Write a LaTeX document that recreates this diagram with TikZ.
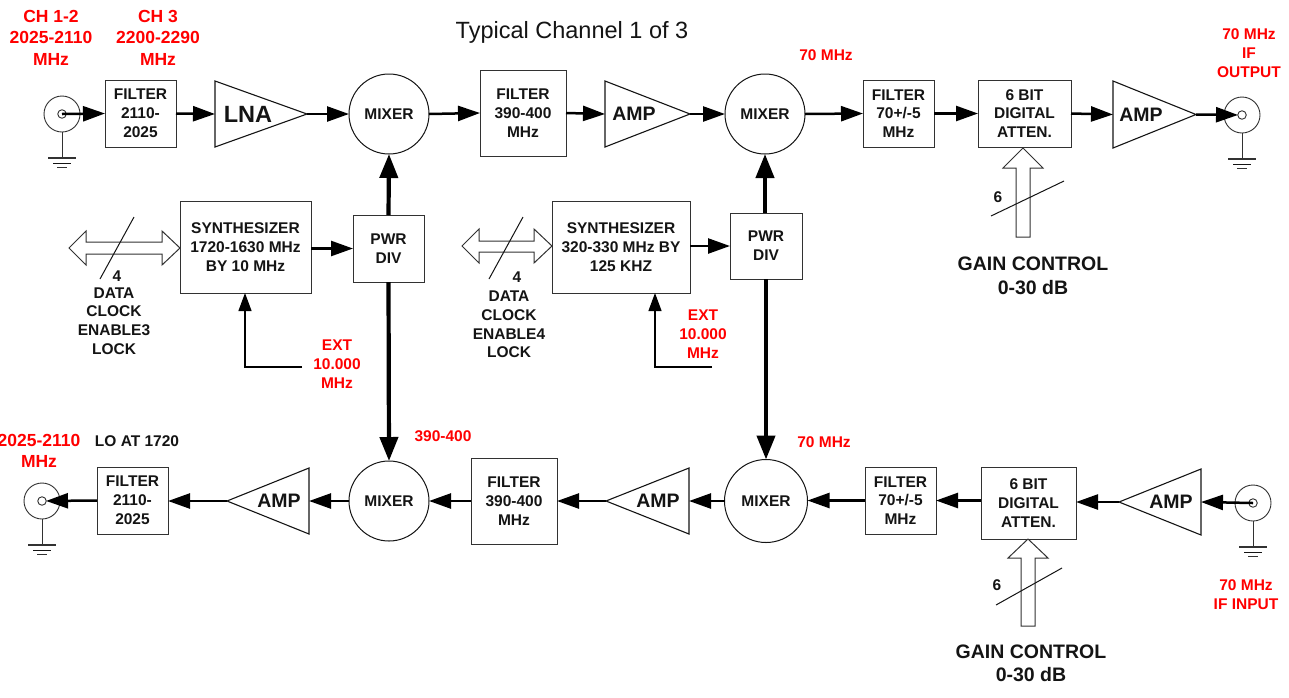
\documentclass[tikz,border=0pt]{standalone}
\usepackage{fontspec}
\setmainfont{Liberation Sans}
\usetikzlibrary{arrows.meta}
\definecolor{redlab}{RGB}{255,0,0}
\definecolor{ink}{RGB}{20,20,20}
\definecolor{edge}{RGB}{50,50,50}
\tikzset{
  blk/.style={draw=edge,line width=1pt,inner sep=0pt,outer sep=0pt,align=center,
    font=\fontsize{15.5}{18.8}\selectfont\bfseries,text=ink},
  mixnode/.style={draw=ink,circle,line width=1pt,inner sep=0pt,outer sep=0pt,minimum size=80pt,
    font=\fontsize{15.5}{18.8}\selectfont\bfseries,text=ink},
  connod/.style={draw=edge,circle,line width=0.9pt,inner sep=0pt,outer sep=0pt,minimum size=36pt},
  ampshape/.style={draw=ink,line width=1.1pt,line join=miter},
  amptext/.style={inner sep=0pt,font=\fontsize{19.5}{22}\selectfont\bfseries,text=ink},
  sig/.style={draw=black,line width=2.5pt,-{Triangle[length=22pt,width=15pt]}},
  thicksig/.style={draw=black,line width=4.2pt,-{Triangle[length=24pt,width=18pt]}},
  thin arrow/.style={draw=black,line width=1.2pt,-{Triangle[length=18pt,width=13pt]}},
  plainline/.style={draw=ink,line width=1pt},
  hollow/.style={draw=edge,fill=white,line width=1pt,line join=miter},
  redlabel/.style={inner sep=0pt,align=center,text=redlab,font=\fontsize{15.5}{19}\selectfont\bfseries},
  redbig/.style={inner sep=0pt,align=center,text=redlab,font=\fontsize{17.5}{21.5}\selectfont\bfseries},
  blacklabel/.style={inner sep=0pt,align=center,text=ink,font=\fontsize{15.5}{18.8}\selectfont\bfseries},
  gainlabel/.style={inner sep=0pt,align=center,text=ink,font=\fontsize{19.5}{23.5}\selectfont\bfseries},
}
% name, x1, y1, x2, y2, text
\newcommand{\blockbox}[6]{\node[blk,minimum width={(#4-#2)*1pt},minimum height={(#5-#3)*1pt}] (#1) at ({(#2+#4)/2},{(#3+#5)/2}) {#6};}
% name, xbase, xapex, yc, half height, text, text x
\newcommand{\amptri}[7]{%
  \draw[ampshape] (#2,#4-#5) -- (#2,#4+#5) -- (#3,#4) -- cycle;
  \coordinate (#1 base) at (#2,#4);
  \coordinate (#1 apex) at (#3,#4);
  \node[amptext] (#1) at (#7,#4) {#6};}
% name, x, y
\newcommand{\coax}[3]{%
  \node[connod] (#1) at (#2,#3) {};
  \node[draw=edge,circle,line width=0.9pt,inner sep=0pt,minimum size=8.5pt] (#1 pin) at (#2,#3) {};
  \coordinate (#1 g1) at (#2,#3+44);
  \draw[plainline,draw=edge] (#1.south) -- (#1 g1);
  \draw[plainline,draw=edge,line width=1.3pt] (#2-14,#3+44) -- (#2+14,#3+44);
  \draw[plainline] (#2-9,#3+49) -- (#2+9,#3+49);
  \draw[plainline,draw=edge] (#2-5,#3+53) -- (#2+5,#3+53);}
\begin{document}
\begin{tikzpicture}[x=1pt,y=-1pt]
\useasboundingbox[fill=white] (0,0) rectangle (1289,697);

% title and labels
\node[inner sep=0pt,font=\fontsize{23.5}{26}\selectfont,text=ink] (title) at (572,32) {Typical Channel 1 of 3};
\node[redbig] (ch12) at (51,37.5) {CH 1-2\\2025-2110\\MHz};
\node[redbig] (ch3) at (158,37.5) {CH 3\\2200-2290\\MHz};
\node[redlabel] (l70a) at (826,55) {70 MHz};
\node[redlabel] (ifout) at (1249,53) {70 MHz\\IF\\OUTPUT};
\node[redlabel] (l390) at (443,436) {390-400};
\node[redlabel] (l70b) at (824,442) {70 MHz};
\node[redlabel] (ifin) at (1246,595) {70 MHz\\IF INPUT};
\node[redbig] (lout) at (39,451) {2025-2110\\MHz};
\node[blacklabel] (loat) at (137,441) {LO AT 1720};
\node[redlabel] (ext1) at (337,364) {EXT\\10.000\\MHz};
\node[redlabel] (ext2) at (703,334) {EXT\\10.000\\MHz};
\node[blacklabel] (ctl1) at (114,321) {DATA\\CLOCK\\ENABLE3\\LOCK};
\node[blacklabel] (ctl2) at (509,324.5) {DATA\\CLOCK\\ENABLE4\\LOCK};
\node[blacklabel] (n41) at (117,276) {4};
\node[blacklabel] (n42) at (517,277) {4};
\node[blacklabel] (n61) at (998,197) {6};
\node[blacklabel] (n62) at (997,585) {6};
\node[gainlabel] (gain1) at (1033,276) {GAIN CONTROL\\0-30 dB};
\node[gainlabel] (gain2) at (1031,663.5) {GAIN CONTROL\\0-30 dB};

% top row
\coax{cin}{62}{114}
\blockbox{f1}{105}{80}{176}{147}{FILTER\\2110-\\2025}
\amptri{lna}{215}{307}{114}{33}{\fontsize{23.5}{26}\selectfont LNA}{248}
\node[mixnode] (m1) at (389,114) {MIXER};
\blockbox{f2}{480}{70}{566}{156}{FILTER\\390-400\\MHz}
\amptri{a1}{605}{690}{114}{33}{AMP}{634}
\node[mixnode] (m2) at (765,114) {MIXER};
\blockbox{f3}{863}{80}{934}{147}{FILTER\\70+/-5\\MHz}
\blockbox{d1}{978}{80}{1071}{147}{6 BIT\\DIGITAL\\ATTEN.}
\amptri{a2}{1113}{1196}{114.5}{33.5}{AMP}{1141}
\coax{cout}{1242}{115}

% middle row
\blockbox{s1}{180}{201}{311}{293}{SYNTHESIZER\\1720-1630 MHz\\BY 10 MHz}
\blockbox{p1}{353}{215}{424}{282}{PWR\\DIV}
\blockbox{s2}{552}{201}{690}{293}{SYNTHESIZER\\320-330 MHz BY\\125 KHZ}
\blockbox{p2}{730}{213}{802}{279}{PWR\\DIV}

% bottom row
\coax{clo}{42}{501}
\blockbox{f4}{97}{467}{168}{534}{FILTER\\2110-\\2025}
\amptri{a3}{309}{227}{501}{33}{AMP}{279}
\node[mixnode] (m3) at (389,501) {MIXER};
\blockbox{f5}{471}{458}{557}{544}{FILTER\\390-400\\MHz}
\amptri{a4}{689}{606}{501}{33}{AMP}{658}
\node[mixnode,minimum size=83pt] (m4) at (766,501) {MIXER};
\blockbox{f6}{865}{467}{936}{534}{FILTER\\70+/-5\\MHz}
\blockbox{d2}{981}{467}{1076}{539}{6 BIT\\DIGITAL\\ATTEN.}
\amptri{a5}{1201}{1119}{502}{33}{AMP}{1171}
\coax{cif}{1253}{503}

% top signal path
\draw[sig] (cin.center) -- (f1.west);
\draw[sig] (f1.east) -- (lna base);
\draw[sig] (lna apex) -- (m1.west);
\draw[sig] (m1.east) -- (f2.west);
\draw[sig] (f2.east) -- (a1 base);
\draw[sig] (a1 apex) -- (m2.west);
\draw[sig] (m2.east) -- (f3.west);
\draw[sig] (f3.east) -- (d1.west);
\draw[sig] (d1.east) -- (a2 base);
\draw[sig,shorten >=4pt] (a2 apex) -- (cout.center);

% bottom signal path
\draw[sig] (cif.center) -- (a5 base);
\draw[sig] (a5 apex) -- (d2.east |- a5 apex);
\draw[sig] (d2.west |- f6.east) -- (f6.east);
\draw[sig] (f6.west) -- (m4.east |- f6.west);
\draw[sig] (m4.west) -- (a4 base);
\draw[sig] (a4 apex) -- (f5.east |- a4 apex);
\draw[sig] (f5.west) -- (m3.east |- f5.west);
\draw[sig] (m3.west) -- (a3 base);
\draw[sig] (a3 apex) -- (f4.east |- a3 apex);
\draw[sig,shorten >=4pt] (f4.west) -- (clo.center);

% LO paths
\draw[thicksig] (p1.north) -- (m1.south);
\draw[thicksig] (p1.south) -- (m3.north);
\draw[thicksig] (p2.north -| m2.south) -- (m2.south);
\draw[thicksig] (p2.south) -- (m4.north);
\draw[sig] (s1.east |- p1.west) -- (p1.west);
\draw[sig] (s2.east |- p2.west) -- (p2.west);

% external reference
\coordinate (e1a) at (302,367);
\coordinate (e1b) at (245,367);
\coordinate (e2a) at (712,367);
\coordinate (e2b) at (655,367);
\draw[thin arrow] (e1a) -- (e1b) -- (e1b |- s1.south);
\draw[thin arrow] (e2a) -- (e2b) -- (e2b |- s2.south);

% hollow bus arrows
\draw[hollow] (69,248) -- (86,231) -- (86,242) -- (162,242) -- (162,231) -- (180,248) -- (162,265) -- (162,254) -- (86,254) -- (86,265) -- cycle;
\draw[plainline] (134,217) -- (100,279);
\draw[hollow] (462,246) -- (479,229) -- (479,241) -- (534,241) -- (534,229) -- (552,246) -- (534,263) -- (534,252) -- (479,252) -- (479,263) -- cycle;
\draw[plainline] (523,217) -- (489,279);
\draw[hollow] (1023,148) -- (1043,168) -- (1030,168) -- (1030,237) -- (1016,237) -- (1016,168) -- (1003,168) -- cycle;
\draw[plainline] (991,216) -- (1064,181);
\draw[hollow] (1028,539) -- (1048,558) -- (1035,558) -- (1035,626) -- (1021,626) -- (1021,558) -- (1008,558) -- cycle;
\draw[plainline] (996,605) -- (1062,568);
\end{tikzpicture}
\end{document}
